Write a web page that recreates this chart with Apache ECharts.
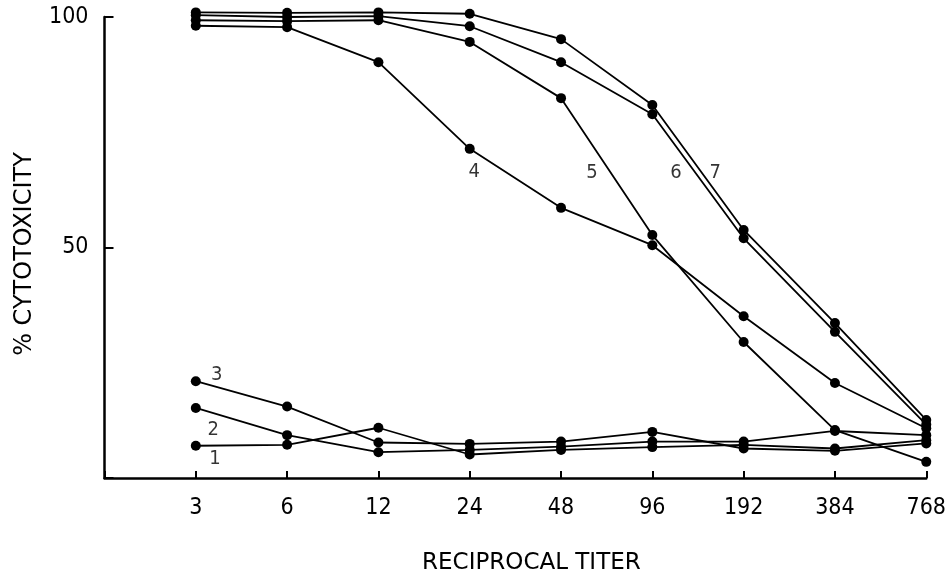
<!DOCTYPE html>
<html>
<head>
<meta charset="utf-8">
<script src="https://cdn.jsdelivr.net/npm/echarts@6/dist/echarts.min.js"></script>
<style>
  html, body { margin: 0; padding: 0; background: #fff; }
  #main { width: 949px; height: 581px; }
</style>
</head>
<body>
<div id="main"></div>
<script>
// 横轴刻度（稀释倍数的倒数）
var categories = ['3', '6', '12', '24', '48', '96', '192', '384', '768'];

// 各条曲线 % cytotoxicity
var line1 = [7.0, 7.2, 10.9, 5.1, 6.1, 6.7, 7.2, 6.4, 8.2];
var line2 = [15.2, 9.3, 5.6, 6.1, 6.8, 7.9, 7.9, 10.2, 9.3];
var line3 = [21.0, 15.5, 7.7, 7.4, 7.9, 10.0, 6.4, 5.9, 7.5];
var line4 = [98.1, 97.8, 90.2, 71.4, 58.6, 50.5, 35.1, 20.6, 10.8];
var line5 = [99.3, 99.1, 99.3, 94.6, 82.4, 52.7, 29.5, 10.4, 3.5];
var line6 = [100.4, 100.0, 100.2, 98.0, 90.2, 78.9, 52.0, 31.7, 11.6];
var line7 = [101.0, 100.9, 101.0, 100.7, 95.2, 80.9, 53.8, 33.6, 12.6];

// 曲线编号标注（数据坐标）
var tagNames = ['1', '2', '3', '4', '5', '6', '7'];
var tagX = [0.21, 0.19, 0.23, 3.05, 4.34, 5.26, 5.69];
var tagY = [4.2, 10.4, 22.3, 66.4, 66.2, 66.2, 66.2];

var yTicks = [0, 50, 100];

var digitFont = '"Liberation Sans Narrow", "DejaVu Sans Condensed", sans-serif';
var nameFont = '"DejaVu Sans", sans-serif';

var chart = echarts.init(document.getElementById('main'), null, { renderer: 'canvas' });

function toPoints(arr) {
  return arr.map(function (v, i) { return [i, v]; });
}

function makeLine(name, arr) {
  return {
    name: name,
    type: 'line',
    data: toPoints(arr),
    clip: false,
    symbol: 'circle',
    symbolSize: 10,
    smooth: false,
    lineStyle: { color: '#000', width: 1.8 },
    itemStyle: { color: '#000' },
    emphasis: { disabled: true },
    z: 3
  };
}

var series = [
  makeLine('1', line1),
  makeLine('2', line2),
  makeLine('3', line3),
  makeLine('4', line4),
  makeLine('5', line5),
  makeLine('6', line6),
  makeLine('7', line7),
  {
    name: 'tags',
    type: 'scatter',
    symbolSize: 0,
    clip: false,
    data: tagNames.map(function (n, i) {
      return { name: n, value: [tagX[i], tagY[i]] };
    }),
    label: {
      show: true,
      position: 'inside',
      formatter: '{b}',
      color: '#000',
      fontFamily: digitFont,
      fontSize: 20
    },
    silent: true,
    z: 4
  }
];

var option = {
  backgroundColor: '#ffffff',
  animation: false,
  grid: {
    left: 104.5,
    right: 21,
    top: 17,
    bottom: 103,
    containLabel: false
  },
  xAxis: {
    type: 'value',
    min: -1,
    max: categories.length - 1,
    interval: 1,
    name: 'RECIPROCAL TITER',
    nameLocation: 'middle',
    nameGap: 74,
    nameTextStyle: {
      color: '#000',
      fontFamily: nameFont,
      fontSize: 23,
      padding: [0, 0, 0, 32]
    },
    axisLine: { onZero: false, lineStyle: { color: '#000', width: 2.5 } },
    axisTick: { inside: true, length: 7, lineStyle: { color: '#000', width: 2 } },
    axisLabel: {
      margin: 19,
      color: '#000',
      fontFamily: digitFont,
      fontSize: 23,
      formatter: function (v) {
        return v >= 0 ? categories[v] : '';
      }
    },
    splitLine: { show: false }
  },
  yAxis: {
    type: 'value',
    min: yTicks[0],
    max: yTicks[yTicks.length - 1],
    interval: 50,
    name: '% CYTOTOXICITY',
    nameLocation: 'middle',
    nameRotate: 90,
    nameGap: 68,
    nameTextStyle: {
      color: '#000',
      fontFamily: nameFont,
      fontSize: 24,
      padding: [0, 13, 0, 0]
    },
    axisLine: { show: true, onZero: false, lineStyle: { color: '#000', width: 2.5 } },
    axisTick: { show: true, inside: true, length: 9, lineStyle: { color: '#000', width: 2 } },
    axisLabel: {
      margin: 16,
      color: '#000',
      fontFamily: digitFont,
      fontSize: 23,
      formatter: function (v) {
        return v === 0 ? '' : String(v);
      }
    },
    splitLine: { show: false }
  },
  series: series
};

chart.setOption(option);
</script>
</body>
</html>
